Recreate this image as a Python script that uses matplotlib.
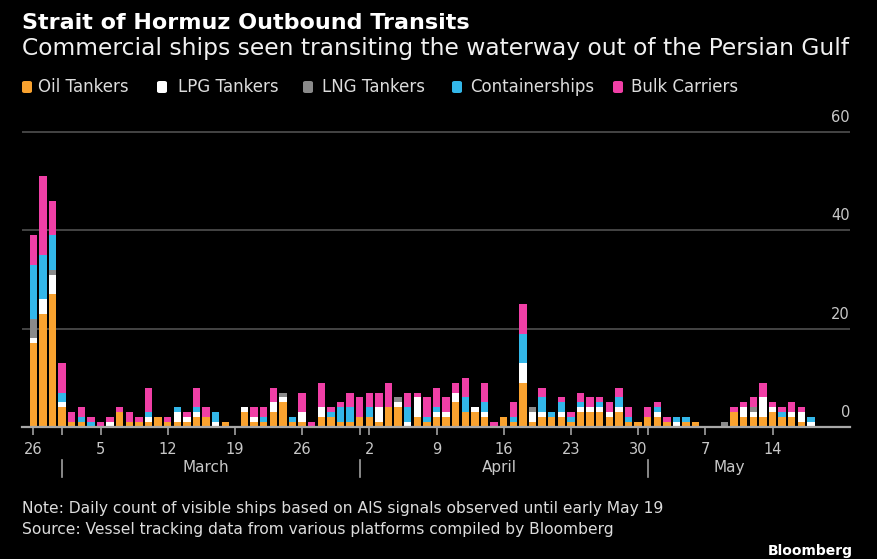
import numpy as np
import pandas as pd
import matplotlib
matplotlib.use("Agg")
import matplotlib.pyplot as plt
from matplotlib.patches import FancyBboxPatch
from matplotlib.transforms import blended_transform_factory

# ---------------- data ----------------
dates = pd.date_range("2026-02-26", "2026-05-18", freq="D")

oil_tankers = [17, 23, 27, 4, 1, 1, 0, 0, 0, 3,
               1, 1, 1, 2, 1, 1, 1, 2, 2, 0,
               1, 0, 3, 1, 1, 3, 5, 1, 1, 0,
               2, 2, 1, 1, 2, 2, 1, 4, 4, 0,
               2, 1, 2, 2, 5, 3, 3, 2, 0, 2,
               1, 9, 1, 2, 2, 2, 1, 3, 3, 3,
               2, 3, 1, 1, 2, 2, 1, 0, 1, 1,
               0, 0, 0, 3, 2, 2, 2, 3, 2, 2,
               1, 0]
lpg_tankers = [1, 3, 4, 1, 0, 0, 0, 0, 1, 0,
               0, 0, 1, 0, 0, 2, 1, 1, 0, 1,
               0, 0, 1, 1, 0, 2, 1, 0, 2, 0,
               2, 0, 0, 0, 0, 0, 3, 0, 1, 1,
               4, 0, 1, 1, 2, 0, 1, 1, 0, 0,
               0, 4, 2, 1, 0, 1, 0, 1, 1, 1,
               1, 1, 0, 0, 0, 1, 0, 1, 0, 0,
               0, 0, 0, 0, 2, 1, 4, 1, 0, 1,
               2, 1]
lng_tankers = [4, 0, 1, 0, 0, 0, 0, 0, 0, 0,
               0, 0, 0, 0, 0, 0, 0, 0, 0, 0,
               0, 0, 0, 0, 0, 0, 1, 0, 0, 0,
               0, 0, 0, 0, 0, 0, 0, 0, 1, 0,
               0, 0, 0, 0, 0, 0, 0, 0, 0, 0,
               0, 0, 1, 0, 0, 0, 0, 0, 0, 0,
               0, 0, 0, 0, 0, 0, 0, 0, 0, 0,
               0, 0, 1, 0, 0, 1, 0, 0, 0, 0,
               0, 0]
containerships = [11, 9, 7, 2, 0, 1, 1, 0, 0, 0,
                  0, 0, 1, 0, 0, 1, 0, 1, 0, 2,
                  0, 0, 0, 0, 1, 0, 0, 1, 0, 0,
                  0, 1, 3, 3, 0, 2, 0, 0, 0, 3,
                  0, 1, 1, 0, 0, 3, 0, 2, 0, 0,
                  1, 6, 0, 3, 1, 2, 1, 1, 0, 1,
                  0, 2, 1, 0, 0, 1, 0, 1, 1, 0,
                  0, 0, 0, 0, 0, 0, 0, 0, 1, 0,
                  0, 1]
bulk_carriers = [6, 16, 7, 6, 2, 2, 1, 1, 1, 1,
                 2, 1, 5, 0, 1, 0, 1, 4, 2, 0,
                 0, 0, 0, 2, 2, 3, 0, 0, 4, 1,
                 5, 1, 1, 3, 4, 3, 3, 5, 0, 3,
                 1, 4, 4, 3, 2, 4, 0, 4, 1, 0,
                 3, 6, 0, 2, 0, 1, 1, 2, 2, 1,
                 2, 2, 2, 0, 2, 1, 1, 0, 0, 0,
                 0, 0, 0, 1, 1, 2, 3, 1, 1, 2,
                 1, 0]

series_labels = ["Oil Tankers", "LPG Tankers", "LNG Tankers",
                 "Containerships", "Bulk Carriers"]
series_colors = ["#F9A22F", "#FFFFFF", "#8A8A8A", "#33B7E9", "#F03FA6"]
y_ticks = [0, 20, 40, 60]

title = "Strait of Hormuz Outbound Transits"
subtitle = "Commercial ships seen transiting the waterway out of the Persian Gulf"
note = "Note: Daily count of visible ships based on AIS signals observed until early May 19"
source = "Source: Vessel tracking data from various platforms compiled by Bloomberg"
brand = "Bloomberg"

# ---------------- figure ----------------
plt.rcParams['font.family'] = ['DejaVu Sans']
W, H = 877, 559
fig = plt.figure(figsize=(W / 100, H / 100), dpi=100, facecolor="black")

ax = fig.add_axes([22 / W, 1 - 427 / H, 828 / W, 305 / H])
ax.set_facecolor("black")

x = np.arange(len(dates))
bottom = np.zeros(len(dates))
all_series = [oil_tankers, lpg_tankers, lng_tankers, containerships, bulk_carriers]
for vals, col, lab in zip(all_series, series_colors, series_labels):
    v = np.asarray(vals, dtype=float)
    ax.bar(x, v, width=0.76, bottom=bottom, color=col, label=lab,
           linewidth=0, zorder=3)
    bottom += v

ax.set_xlim(-1.18, 85.07)
ax.set_ylim(0, 62)

for sp in ["top", "right", "left"]:
    ax.spines[sp].set_visible(False)
ax.spines["bottom"].set_color("#a8a8a8")
ax.spines["bottom"].set_linewidth(1.6)
ax.spines["bottom"].set_zorder(4)

# y grid + labels sitting above grid lines on the right
ax.set_yticks(y_ticks)
ax.tick_params(axis="y", length=0, labelleft=False)
ax.grid(axis="y", color="#4a4a4a", linewidth=1.3, zorder=0)
ax.grid(axis="x", visible=False)
ytrans = blended_transform_factory(ax.transAxes, ax.transData)
for v in y_ticks:
    ax.annotate(str(v), xy=(1.0, v), xycoords=ytrans, xytext=(0, 5),
                textcoords="offset points", ha="right", va="bottom",
                color="#c8c8c8", fontsize=10.5)

# x ticks: weekly labels + month-start minor ticks
week_idx = [i for i, d in enumerate(dates) if (d - dates[0]).days % 7 == 0]
month_start_idx = [i for i, d in enumerate(dates) if d.day == 1]
ax.set_xticks(week_idx)
ax.set_xticklabels([str(dates[i].day) for i in week_idx])
ax.set_xticks(month_start_idx, minor=True)
ax.tick_params(axis="x", which="both", length=6, width=1.2, color="#a0a0a0",
               direction="out", pad=5, labelcolor="#c8c8c8", labelsize=10.5)
ax.tick_params(axis="x", which="minor", labelbottom=False)

# month labels and separators
xtrans = blended_transform_factory(ax.transData, ax.transAxes)
months = sorted(set(d.month for d in dates))
for m in months:
    idx = [i for i, d in enumerate(dates) if d.month == m]
    if dates[idx[0]].day == 1:
        ax.plot([idx[0], idx[0]], [-0.108, -0.163], transform=xtrans,
                color="#a0a0a0", linewidth=1.2, clip_on=False)
    if len(idx) > 5:
        center = (idx[0] + idx[-1]) / 2
        ax.text(center, -0.132, dates[idx[0]].strftime("%B"), transform=xtrans,
                ha="center", va="center", color="#c8c8c8", fontsize=11)

# ---------------- texts ----------------
fig.text(22 / W, 1 - 29 / H, title, color="white", fontsize=16,
         fontweight="bold", ha="left", va="baseline")
fig.text(22 / W, 1 - 55 / H, subtitle, color="#f0f0f0", fontsize=16.8,
         ha="left", va="baseline")

# legend (manual)
sq_x = [22, 157, 303, 452, 613]
tx_x = [38, 178, 322, 470, 631]
for lab, col, sx, tx in zip(series_labels, series_colors, sq_x, tx_x):
    fig.patches.append(FancyBboxPatch((sx / W, 1 - 93 / H), 10 / W, 12 / H,
                                      boxstyle="round,pad=0,rounding_size=0.003",
                                      transform=fig.transFigure, facecolor=col,
                                      edgecolor="none"))
    fig.text(tx / W, 1 - 87 / H, lab, color="#dcdcdc", fontsize=12,
             ha="left", va="center")

fig.text(22 / W, 1 - 513 / H, note, color="#dcdcdc", fontsize=11.2,
         ha="left", va="baseline")
fig.text(22 / W, 1 - 534 / H, source, color="#dcdcdc", fontsize=11.2,
         ha="left", va="baseline")
fig.text(853 / W, 1 - 555 / H, brand, color="white", fontsize=10,
         fontweight="bold", ha="right", va="baseline")

fig.savefig("out.png", dpi=100, facecolor="black")
